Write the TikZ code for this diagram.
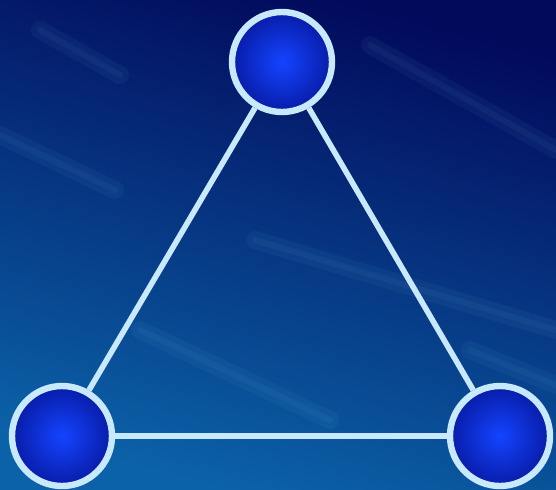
\documentclass[tikz,border=0pt]{standalone}
\usepackage{tikz}
\usetikzlibrary{positioning,calc}
\usepackage{xcolor}
\definecolor{skydark}{HTML}{020A5C}
\definecolor{skylight}{HTML}{0B62A8}
\definecolor{rimblue}{HTML}{C8E8FC}
\definecolor{ballin}{HTML}{1444FF}
\definecolor{ballout}{HTML}{081CA8}

\begin{document}
\begin{tikzpicture}[x=0.5pt,y=-0.5pt,
    vertex/.style={circle,draw=rimblue,line width=3.2pt,minimum size=50pt,
                   inner sep=0pt,shading=radial,inner color=ballin,outer color=ballout},
    edge/.style={draw=rimblue,line width=2.8pt},
    streak/.style={draw=cyan!50!white,line width=#1,opacity=0.05,line cap=round}]
  % sky
  \shade[top color=skydark,bottom color=skylight,shading angle=-15]
        (0,0) rectangle (556,489);
  \useasboundingbox (0,0) rectangle (556,489);
  \foreach \a/\b/\c/\d in {0/135/115/190, 40/30/120/75, 370/45/556/150,
                           255/240/556/330, 140/330/330/420, 470/350/556/385} {
    \draw[streak=9pt] (\a,\b) -- (\c,\d);
    \draw[streak=3pt] (\a,\b) -- (\c,\d);
  }
  % triangle
  \node[vertex] (top)   at (282,62)  {};
  \node[vertex] (left)  at (62,436)  {};
  \node[vertex] (right) at (500,436) {};
  \draw[edge] (top) -- (left);
  \draw[edge] (top) -- (right);
  \draw[edge] (left) -- (right);
\end{tikzpicture}
\end{document}
